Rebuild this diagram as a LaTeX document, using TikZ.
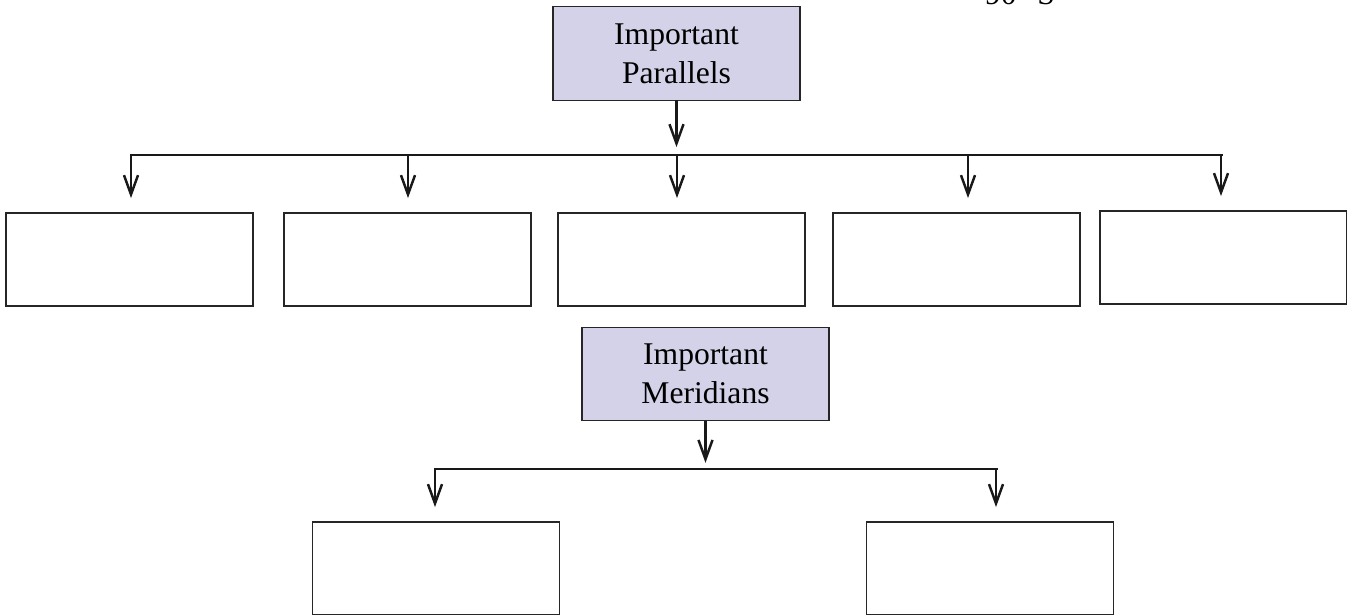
\documentclass[tikz,border=0pt]{standalone}
\usepackage{fontspec}
\setmainfont{Liberation Serif}
\usetikzlibrary{arrows.meta,positioning}
\definecolor{headfill}{RGB}{211,210,232}

\begin{document}
\begin{tikzpicture}
      [
        x=0.02cm, y=-0.02cm,
        node distance = 0pt,
        HeadBlock/.style={draw=black!85, fill=headfill, line width=0.8pt, minimum width=4.94cm, minimum height=1.87cm, outer sep=0pt, align=center, font=\fontsize{18}{22}\selectfont},
        AnswerBlock/.style={draw=black!85, line width=0.8pt, minimum width=4.94cm, minimum height=1.86cm, outer sep=0pt},
        Bar/.style={draw=black!90, line width=1.7pt, line cap=rect},
        Link/.style={draw=black!90, -{Straight Barb[length=11pt, width=8pt, line width=1.4pt]}, line width=1.3pt},
      ]
      \useasboundingbox (0,0) rectangle (1350,615);

      \node [anchor=base, font=\fontsize{18}{22}\selectfont] (deg) at (1020,5) {90° S};

      % parallels
      \node [HeadBlock] (par) at (676.5,53.5) {Important\\Parallels};

      \node [AnswerBlock] (p1) at (129.5,259.5) {};
      \node [AnswerBlock, right=0.62cm of p1] (p2) {};
      \node [AnswerBlock, right=0.54cm of p2] (p3) {};
      \node [AnswerBlock, right=0.56cm of p3] (p4) {};
      \node [AnswerBlock, right=0.40cm of p4, yshift=0.04cm] (p5) {};

      \coordinate (pl) at (131,155);
      \coordinate (pr) at (1221,155);
      \draw [Bar] (pl) -- (pr);
      \draw [Link, shorten >=4.5pt] (par.south) -- (par.south |- pl);
      \foreach \n/\x in {1/131,2/408,3/677,4/968,5/1221}
      {
        \coordinate (t\n) at (\x,155);
        \draw [Link, shorten >=8.5pt] (t\n) -- (t\n |- p\n.north);
      }

      % meridians
      \node [HeadBlock] (mer) at (705.5,374) {Important\\Meridians};

      \node [AnswerBlock] (m1) at (436,568.5) {};
      \node [AnswerBlock, right=6.14cm of m1] (m2) {};

      \coordinate (ml) at (435,469);
      \coordinate (mr) at (996,469);
      \draw [Bar] (ml) -- (mr);
      \draw [Link, shorten >=3.5pt] (mer.south) -- (mer.south |- ml);
      \draw [Link, shorten >=8.5pt] (ml) -- (ml |- m1.north);
      \draw [Link, shorten >=8.5pt] (mr) -- (mr |- m2.north);
    \end{tikzpicture}
\end{document}
